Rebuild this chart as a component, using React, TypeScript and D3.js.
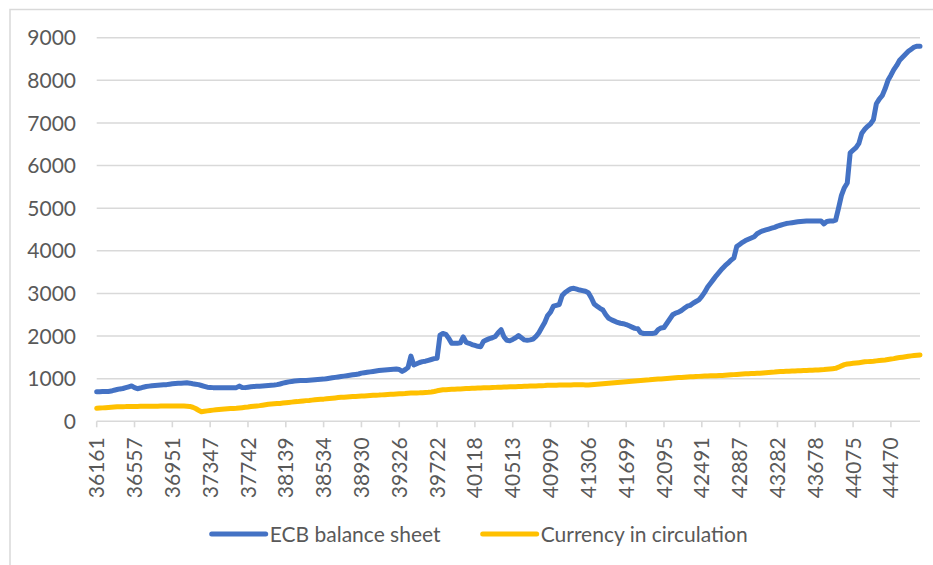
import React, { useEffect, useRef } from 'react';
import * as d3 from 'd3';

// category labels shown on the x axis (every 13th monthly category)
const tickLabels = [
  '36161', '36557', '36951', '37347', '37742', '38139', '38534', '38930',
  '39326', '39722', '40118', '40513', '40909', '41306', '41699', '42095',
  '42491', '42887', '43282', '43678', '44075', '44470',
];
const labelEvery = 13;

const yTicks = [0, 1000, 2000, 3000, 4000, 5000, 6000, 7000, 8000, 9000];

const seriesNames = ['ECB balance sheet', 'Currency in circulation'];
const seriesColors = ['#4472C4', '#FFC000'];

// monthly values, Jan 1999 .. Aug 2022
const ecbBalanceSheet = [
  695, 695, 700, 700, 700, 710, 730, 745, 760, 770, 790, 810, // 1999
  830, 790, 765, 780, 800, 815, 825, 835, 840, 845, 850, 855, // 2000
  860, 870, 880, 885, 890, 895, 900, 905, 895, 880, 870, 860, // 2001
  840, 820, 800, 795, 790, 790, 790, 790, 790, 790, 790, 790, // 2002
  790, 825, 795, 790, 800, 810, 815, 820, 825, 830, 835, 840, // 2003
  845, 850, 860, 875, 895, 910, 925, 935, 945, 950, 955, 960, // 2004
  960, 965, 970, 975, 980, 985, 990, 1000, 1010, 1020, 1030, 1040, // 2005
  1050, 1060, 1070, 1080, 1090, 1100, 1110, 1130, 1140, 1150, 1160, 1170, // 2006
  1180, 1190, 1200, 1205, 1210, 1215, 1220, 1225, 1215, 1170, 1210, 1260, // 2007
  1530, 1320, 1350, 1380, 1400, 1410, 1430, 1450, 1470, 1480, 2020, 2060, // 2008
  2040, 1950, 1830, 1830, 1830, 1840, 1980, 1850, 1830, 1800, 1780, 1760, // 2009
  1750, 1880, 1910, 1940, 1960, 1990, 2080, 2150, 1980, 1900, 1890, 1920, // 2010
  1960, 2010, 1960, 1910, 1900, 1910, 1930, 1990, 2080, 2200, 2320, 2480, // 2011
  2560, 2700, 2720, 2740, 2950, 3020, 3070, 3110, 3120, 3100, 3080, 3065, // 2012
  3050, 3017, 2900, 2752, 2700, 2650, 2611, 2500, 2416, 2380, 2350, 2320, // 2013
  2300, 2290, 2270, 2240, 2210, 2180, 2170, 2080, 2060, 2060, 2060, 2060, // 2014
  2070, 2150, 2190, 2200, 2300, 2400, 2500, 2540, 2560, 2600, 2650, 2700, // 2015
  2720, 2770, 2810, 2850, 2930, 3030, 3150, 3240, 3330, 3420, 3500, 3580, // 2016
  3650, 3710, 3780, 3830, 4100, 4150, 4200, 4240, 4270, 4300, 4330, 4400, // 2017
  4440, 4470, 4490, 4510, 4530, 4550, 4580, 4600, 4620, 4640, 4650, 4660, // 2018
  4670, 4680, 4690, 4695, 4700, 4700, 4700, 4700, 4700, 4700, 4630, 4690, // 2019
  4700, 4700, 4720, 5000, 5300, 5480, 5590, 6300, 6360, 6420, 6520, 6760, // 2020
  6850, 6920, 6980, 7080, 7450, 7560, 7640, 7800, 8000, 8120, 8250, 8350, // 2021
  8470, 8540, 8610, 8680, 8730, 8780, 8800, 8800, // 2022
];

const currencyInCirculation = [
  305, 310, 315, 320, 325, 330, 335, 340, 340, 343, 345, 350, // 1999
  350, 350, 350, 352, 352, 355, 355, 355, 355, 355, 357, 360, // 2000
  358, 358, 358, 358, 358, 358, 358, 355, 350, 330, 300, 260, // 2001
  225, 235, 245, 255, 262, 270, 277, 283, 288, 293, 298, 302, // 2002
  305, 312, 320, 328, 335, 345, 352, 360, 368, 378, 388, 398, // 2003
  405, 410, 415, 420, 428, 435, 442, 450, 456, 462, 470, 478, // 2004
  485, 490, 497, 503, 510, 515, 520, 527, 533, 540, 548, 556, // 2005
  562, 566, 570, 575, 580, 584, 588, 592, 596, 600, 605, 610, // 2006
  612, 615, 620, 624, 628, 632, 636, 640, 644, 648, 652, 660, // 2007
  662, 664, 666, 668, 672, 676, 680, 688, 698, 715, 728, 738, // 2008
  742, 746, 750, 754, 757, 760, 764, 767, 770, 773, 776, 780, // 2009
  782, 785, 788, 790, 793, 796, 798, 800, 802, 805, 808, 812, // 2010
  812, 815, 818, 820, 823, 826, 828, 830, 833, 836, 840, 846, // 2011
  845, 846, 848, 850, 851, 852, 853, 854, 855, 856, 857, 860, // 2012
  850, 852, 858, 864, 870, 876, 882, 888, 894, 900, 906, 912, // 2013
  918, 924, 930, 936, 942, 948, 953, 958, 963, 968, 973, 980, // 2014
  985, 990, 995, 1000, 1005, 1010, 1015, 1020, 1025, 1030, 1035, 1040, // 2015
  1043, 1046, 1050, 1054, 1058, 1062, 1064, 1066, 1068, 1070, 1073, 1076, // 2016
  1080, 1085, 1090, 1095, 1100, 1105, 1110, 1113, 1116, 1119, 1122, 1126, // 2017
  1130, 1135, 1140, 1145, 1150, 1155, 1163, 1167, 1170, 1173, 1176, 1180, // 2018
  1182, 1185, 1188, 1191, 1194, 1197, 1200, 1203, 1206, 1210, 1215, 1222, // 2019
  1228, 1235, 1243, 1270, 1300, 1330, 1345, 1352, 1360, 1368, 1376, 1385, // 2020
  1395, 1400, 1405, 1410, 1418, 1425, 1432, 1440, 1450, 1460, 1470, 1485, // 2021
  1495, 1505, 1515, 1525, 1535, 1545, 1552, 1558, // 2022
];

const App = () => {
  const chartRef = useRef<SVGSVGElement>(null);

  useEffect(() => {
    const svg = d3.select(chartRef.current);
    svg.selectAll('*').remove();

    const width = 933;
    const height = 565;
    const left = 96.7;
    const right = 920;
    const top = 37.7;
    const bottom = 421.3;
    const font = 'Lato, "Open Sans", sans-serif';
    const textColor = '#595959';
    const gridColor = '#d9d9d9';

    // chart area border
    svg.append('rect')
      .attr('x', 10)
      .attr('y', 9.5)
      .attr('width', width)
      .attr('height', height)
      .attr('fill', 'white')
      .attr('stroke', gridColor)
      .attr('stroke-width', 1.5);

    const n = ecbBalanceSheet.length;
    const x = d3.scaleLinear().domain([0, n - 1]).range([left, right]);
    const y = d3.scaleLinear().domain([0, 9000]).range([bottom, top]);

    // gridlines
    svg.append('g')
      .selectAll('line')
      .data(yTicks)
      .enter()
      .append('line')
      .attr('x1', left)
      .attr('x2', right)
      .attr('y1', d => y(d))
      .attr('y2', d => y(d))
      .attr('stroke', gridColor)
      .attr('stroke-width', 1.6);

    // y labels
    svg.append('g')
      .selectAll('text')
      .data(yTicks)
      .enter()
      .append('text')
      .attr('x', 76)
      .attr('y', d => y(d))
      .attr('dy', '0.36em')
      .attr('text-anchor', 'end')
      .attr('font-family', font)
      .attr('font-size', 21)
      .attr('fill', textColor)
      .text(d => d);

    // x ticks + labels
    const xt = svg.append('g')
      .selectAll('g')
      .data(tickLabels)
      .enter()
      .append('g')
      .attr('transform', (d, k) => `translate(${x(k * labelEvery)},0)`);
    xt.append('line')
      .attr('y1', bottom)
      .attr('y2', bottom + 6)
      .attr('stroke', gridColor)
      .attr('stroke-width', 1.6);
    xt.append('text')
      .attr('transform', `translate(0,${bottom + 16}) rotate(-90)`)
      .attr('dy', '0.36em')
      .attr('text-anchor', 'end')
      .attr('font-family', font)
      .attr('font-size', 21)
      .attr('fill', textColor)
      .text(d => d);

    // series lines
    const line = d3.line<number>()
      .x((d, i) => x(i))
      .y(d => y(d));
    [ecbBalanceSheet, currencyInCirculation].forEach((values, s) => {
      svg.append('path')
        .datum(values)
        .attr('d', line)
        .attr('fill', 'none')
        .attr('stroke', seriesColors[s])
        .attr('stroke-width', 5)
        .attr('stroke-linejoin', 'round')
        .attr('stroke-linecap', 'round');
    });

    // legend
    const legendX = [211.7, 482.7];
    const legend = svg.append('g')
      .selectAll('g')
      .data(seriesNames)
      .enter()
      .append('g')
      .attr('transform', (d, s) => `translate(${legendX[s]},534)`);
    legend.append('line')
      .attr('x1', 0)
      .attr('x2', 54)
      .attr('stroke', (d, s) => seriesColors[s])
      .attr('stroke-width', 5)
      .attr('stroke-linecap', 'round');
    legend.append('text')
      .attr('x', 58)
      .attr('dy', '0.36em')
      .attr('font-family', font)
      .attr('font-size', 21)
      .attr('fill', textColor)
      .text(d => d);
  }, []);

  return (
    <svg
      ref={chartRef}
      width={933}
      height={565}
      style={{ position: 'absolute', left: 0, top: 0, background: 'white' }}
    />
  );
};

export default App;
